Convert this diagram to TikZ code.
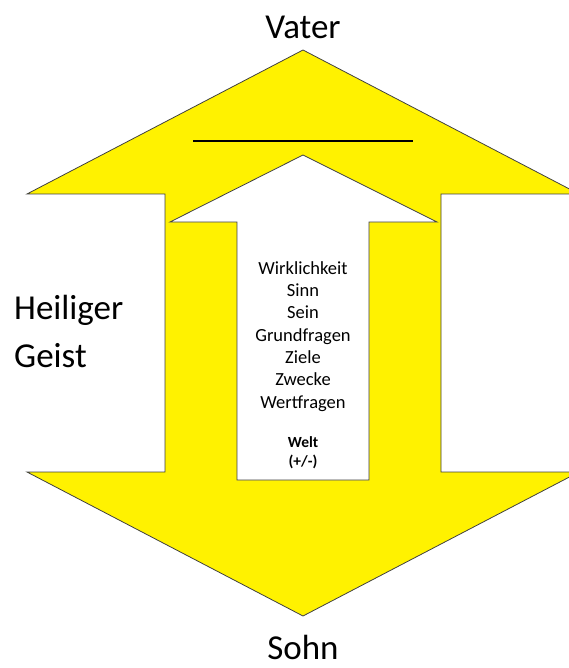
\documentclass[tikz,border=0pt]{standalone}
\usepackage{fontspec}
\setmainfont{Carlito}
\usetikzlibrary{positioning}

\begin{document}
\begin{tikzpicture}[
    x = 1pt, y = -1pt,
    gelb/.style = {fill=yellow, draw=black!75, line width=0.8pt},
    innen/.style = {fill=white, draw=black!75, line width=0.8pt},
    gross/.style = {font=\fontsize{35}{48}\selectfont, inner sep=0pt},
    liste/.style = {font=\fontsize{18.5}{22.3}\selectfont, inner sep=0pt, align=center},
    welt/.style = {font=\bfseries\fontsize{15.5}{18.5}\selectfont, inner sep=0pt, align=center}
    ]

  \useasboundingbox (0,0) rectangle (569,668) ;
  \clip (0,0) rectangle (569,668) ;

  % grosser Doppelpfeil
  \draw[gelb] (303,50) -- (579,194) -- (441,194) -- (441,472) -- (579,472)
    -- (303,616) -- (27,472) -- (165,472) -- (165,194) -- (27,194) -- cycle ;

  % innerer Pfeil
  \draw[innen] (303,155) -- (437,222) -- (369,222) -- (369,480)
    -- (237,480) -- (237,222) -- (170,222) -- cycle ;

  \draw[line width=2.5pt] (193,141) -- (413,141) ;

  % base = letzte Zeile
  \node[gross, anchor=base] (vater) at (303,39) {Vater} ;
  \node[gross, anchor=base] (sohn) at (303,659) {Sohn} ;
  \node[gross, anchor=base west, align=left] (geist) at (14,367) {Heiliger\\Geist} ;

  \node[liste, anchor=base] (fragen) at (303,408)
    {Wirklichkeit\\Sinn\\Sein\\Grundfragen\\Ziele\\Zwecke\\Wertfragen} ;
  \node[welt, anchor=base] (weltnode) at (303,466) {Welt\\(+/-)} ;
\end{tikzpicture}
\end{document}
